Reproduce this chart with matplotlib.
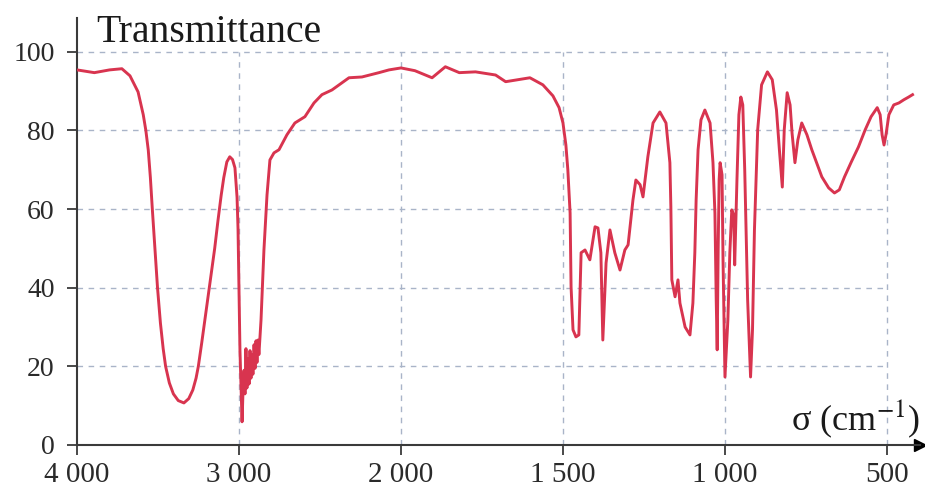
import matplotlib
matplotlib.use("Agg")
import matplotlib.pyplot as plt
import numpy as np

# IR spectrum: wavenumber (cm-1) and transmittance (%)
sigma = [4000, 3893, 3799, 3723, 3673, 3623, 3591, 3575, 3560, 3547, 3535, 3519,
         3503, 3485, 3468, 3453, 3430, 3405, 3375, 3340, 3310, 3285, 3265, 3251,
         3230, 3210, 3190, 3170, 3150, 3130, 3110, 3094, 3075, 3057, 3040,
         3025, 3012, 3006, 3000, 2994, 2981, 2975, 2969, 2963, 2957, 2951, 2944,
         2938, 2932, 2926, 2920, 2914, 2907, 2901, 2895, 2889, 2883, 2877, 2864,
         2846, 2827, 2809, 2784, 2753, 2704, 2655, 2593, 2537, 2488,
         2426, 2321, 2241, 2136, 2074, 2000, 1957, 1904, 1863, 1820, 1770, 1708,
         1677, 1640, 1602, 1562, 1531, 1512, 1500, 1491, 1485, 1478, 1475, 1469,
         1460, 1451, 1444, 1432, 1417, 1401, 1392, 1383, 1377, 1367, 1355, 1340,
         1324, 1309, 1299, 1284, 1275, 1262, 1253, 1238, 1222, 1201, 1182, 1170,
         1167, 1164, 1154, 1145, 1139, 1123, 1108, 1099, 1093, 1089, 1083, 1074,
         1062, 1046, 1037, 1031, 1027, 1024, 1021, 1018, 1015, 1009, 1006, 1000,
         991, 985, 979, 973, 970, 963, 957, 951, 945, 939, 930, 921,
         915, 909, 899, 887, 869, 854, 841, 832, 823, 817, 808, 799,
         793, 784, 775, 763, 747, 732, 701, 680, 662, 647, 631, 610,
         588, 567, 549, 530, 521, 515, 509, 503, 494, 479, 463, 448,
         433, 421]
trans = [95.4, 94.7, 95.4, 95.7, 93.9, 89.8, 84.0, 80.0, 75.0, 68.0, 60.0, 50.0,
         40.0, 31.0, 24.5, 20.0, 15.8, 13.0, 11.3, 10.7, 11.8, 14.0, 17.0, 20.0,
         26.0, 32.0, 38.0, 44.0, 50.0, 57.0, 63.5, 68.0, 72.0, 73.3, 72.6,
         70.5, 63.0, 55.0, 40.0, 24.0, 5.9, 14.0, 19.0, 13.0, 24.5, 14.5, 22.0,
         15.5, 24.0, 17.0, 23.0, 18.0, 25.5, 19.5, 26.5, 21.0, 26.7, 23.0, 31.8,
         49.6, 63.6, 72.5, 74.3, 75.1, 78.9, 81.9, 83.5, 87.0, 89.1,
         90.3, 93.4, 93.6, 94.7, 95.4, 95.9, 95.2, 93.4, 96.2, 94.7, 94.9, 94.1,
         92.4, 92.9, 93.4, 91.6, 88.8, 85.8, 81.9, 76.3, 70.0, 59.0, 40.2, 29.3,
         27.5, 28.0, 48.9, 49.6, 47.1, 55.5, 55.2, 48.9, 26.7, 46.3, 54.7, 48.9,
         44.5, 49.6, 50.9, 62.3, 67.4, 66.2, 63.1, 73.3, 81.9, 84.7, 81.9, 71.8,
         60.6, 42.0, 37.7, 42.0, 36.1, 30.0, 28.0, 36.1, 48.9, 62.3, 75.1, 82.7,
         85.2, 81.9, 71.8, 59.0, 36.9, 24.2, 49.6, 67.4, 71.8, 68.7, 47.1, 17.3,
         31.8, 48.9, 59.8, 58.5, 45.8, 67.4, 84.0, 88.5, 86.5, 70.0, 36.9, 17.3,
         29.3, 54.7, 80.2, 91.6, 94.9, 92.9, 85.2, 75.1, 65.6, 80.2, 89.6, 86.5,
         79.4, 71.8, 77.6, 81.9, 78.9, 75.1, 68.2, 65.4, 64.1, 64.9, 68.2, 72.0,
         75.8, 80.2, 83.5, 85.8, 84.0, 78.9, 76.3, 78.9, 84.0, 86.5, 87.0, 87.8,
         88.5, 89.1]

x_ticks = [4000, 3000, 2000, 1500, 1000, 500]
x_labels = ["4 000", "3 000", "2 000", "1 500", "1 000", "500"]
y_ticks = [0, 20, 40, 60, 80, 100]

plt.rcParams["font.family"] = ["Liberation Serif", "DejaVu Serif"]
plt.rcParams["mathtext.fontset"] = "stix"
AXIS_COL = "#3a3a3a"
GRID_COL = "#a9b4c8"
LINE_COL = "#d8344f"


# IR charts change scale at 2000 cm-1: 1000 cm-1 per unit above, 500 below
def fwd(s):
    s = np.asarray(s, dtype=float)
    return np.where(s >= 2000, s / 1000.0, s / 500.0 - 2.0)


def inv(u):
    u = np.asarray(u, dtype=float)
    return np.where(u >= 2, u * 1000.0, (u + 2.0) * 500.0)


fig = plt.figure(figsize=(9.25, 4.93), dpi=100)
ax = fig.add_axes([77 / 925, 48 / 493, 843 / 925, 427 / 493])
ax.set_xscale("function", functions=(fwd, inv))
ax.set_xlim(4000, 398)
ax.set_ylim(0, 108.6)

# dashed grid, limited to the 4000..500 / 0..100 box
ax.hlines(y_ticks[1:], 4000, 500, colors=GRID_COL, linestyles=(0, (4, 4)), lw=1.0, zorder=1)
ax.vlines(x_ticks[1:], 0, 100, colors=GRID_COL, linestyles=(0, (4, 4)), lw=1.0, zorder=1)

ax.plot(sigma, trans, color=LINE_COL, lw=2.1, zorder=3, solid_joinstyle="round")

for side in ["top", "right"]:
    ax.spines[side].set_visible(False)
for side in ["left", "bottom"]:
    ax.spines[side].set_color(AXIS_COL)
    ax.spines[side].set_linewidth(1.5)

# arrow heads at the axis ends
ax.plot(1, 0, ">", color="black", ms=9, transform=ax.get_yaxis_transform(), clip_on=False)
ax.plot(0, 1, "^", color="black", ms=9, transform=ax.get_xaxis_transform(), clip_on=False)

ax.set_xticks(x_ticks)
ax.set_xticklabels(x_labels)
ax.set_yticks(y_ticks)
ax.minorticks_off()
ax.tick_params(axis="both", direction="out", length=7, width=1.3, color=AXIS_COL,
               labelcolor="#2a2a2a")
ax.tick_params(axis="x", pad=5, labelsize=21)
ax.tick_params(axis="y", pad=9, labelsize=20)

fig.text(96 / 925, 1 - 42 / 493, "Transmittance", fontsize=28.5, color="#1a1a1a",
         ha="left", va="baseline")
fig.text(920 / 925, 1 - 430 / 493, r"σ (cm$^{-1}$)", fontsize=26, color="#1a1a1a",
         ha="right", va="baseline")

fig.savefig("out.png", dpi=100)
